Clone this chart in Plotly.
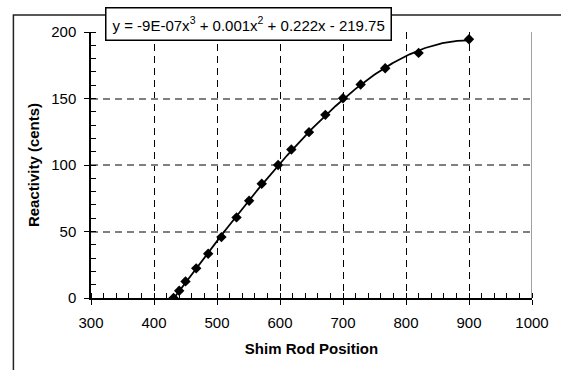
import numpy as np
import plotly.graph_objects as go

# Data
shim_position = [431, 440, 450, 467, 486, 507, 531, 551, 571, 597, 618, 646, 672, 700, 728, 767, 820, 900]
reactivity = [0, 5.5, 12.5, 22.3, 33.3, 45.8, 60.6, 73.1, 85.9, 100, 111.7, 124.7, 137.7, 150.2, 160.5, 172.7, 184.3, 194.5]
x_ticks = [300, 400, 500, 600, 700, 800, 900, 1000]
y_ticks = [0, 50, 100, 150, 200]
equation_text = "y = -9E-07x<sup>3</sup> + 0.001x<sup>2</sup> + 0.222x - 219.75"

# Cubic trendline (as in the spreadsheet chart)
coef = np.polyfit(shim_position, reactivity, 3)
fit_x = np.linspace(min(shim_position), max(shim_position), 200)
fit_y = np.polyval(coef, fit_x)

FONT = "Arial, Liberation Sans, sans-serif"

fig = go.Figure()
fig.add_trace(go.Scatter(x=fit_x, y=fit_y, mode="lines",
                         line=dict(color="black", width=1.8), hoverinfo="skip"))
fig.add_trace(go.Scatter(x=shim_position, y=reactivity, mode="markers",
                         marker=dict(symbol="diamond", size=8, color="black")))

W, H = 561, 370
L, R, T, B = 91, 21, 32, 72
pw, ph = W - L - R, H - T - B

def px_to_paper(px, py):
    return (px - L) / pw, (H - B - py) / ph

# right border of the plot area (gray)
fig.add_shape(type="line", xref="x", yref="y", x0=1000, x1=1000, y0=0, y1=200,
              line=dict(color="#808080", width=1.5), layer="above")

# outer chart border
x0, y0 = px_to_paper(12, 15)
x1, y1 = px_to_paper(575, 385)
fig.add_shape(type="rect", xref="paper", yref="paper", x0=x0, y0=y1, x1=x1, y1=y0,
              line=dict(color="#222222", width=1.5))

ax, ay = px_to_paper(251, 24.5)
fig.add_annotation(xref="paper", yref="paper", x=ax, y=ay, text=equation_text,
                   showarrow=False, font=dict(family=FONT, size=15, color="black"),
                   bgcolor="white", bordercolor="black", borderwidth=1.5, borderpad=6,
                   xanchor="center", yanchor="middle")

fig.update_layout(
    width=W, height=H,
    margin=dict(l=L, r=R, t=T, b=B, pad=0),
    paper_bgcolor="white", plot_bgcolor="white",
    showlegend=False,
    font=dict(family=FONT, size=15, color="black"),
)
fig.update_xaxes(
    range=[300, 1000], tickvals=x_ticks, ticks="outside", ticklen=5, tickwidth=1.2,
    tickcolor="black", showline=True, linecolor="black", linewidth=1.5,
    showgrid=True, gridcolor="black", gridwidth=1.2, griddash="7px,5px",
    zeroline=False,
    minor=dict(dtick=20, ticks="inside", ticklen=5, tickcolor="black", tickwidth=1, showgrid=False),
    title=dict(text="<b>Shim Rod Position</b>", font=dict(size=15), standoff=14),
    ticklabelstandoff=5,
)
fig.update_yaxes(
    range=[0, 200], tickvals=y_ticks, ticks="outside", ticklen=5, tickwidth=1.2,
    tickcolor="black", showline=True, linecolor="black", linewidth=1.5,
    showgrid=True, gridcolor="#808080", gridwidth=1.5, griddash="7px,5px",
    zeroline=False,
    minor=dict(dtick=10, ticks="inside", ticklen=5, tickcolor="black", tickwidth=1, showgrid=False),
    title=dict(text="<b>Reactivity (cents)</b>", font=dict(size=15), standoff=8),
    ticklabelstandoff=5,
)

fig.write_html("out.html")
